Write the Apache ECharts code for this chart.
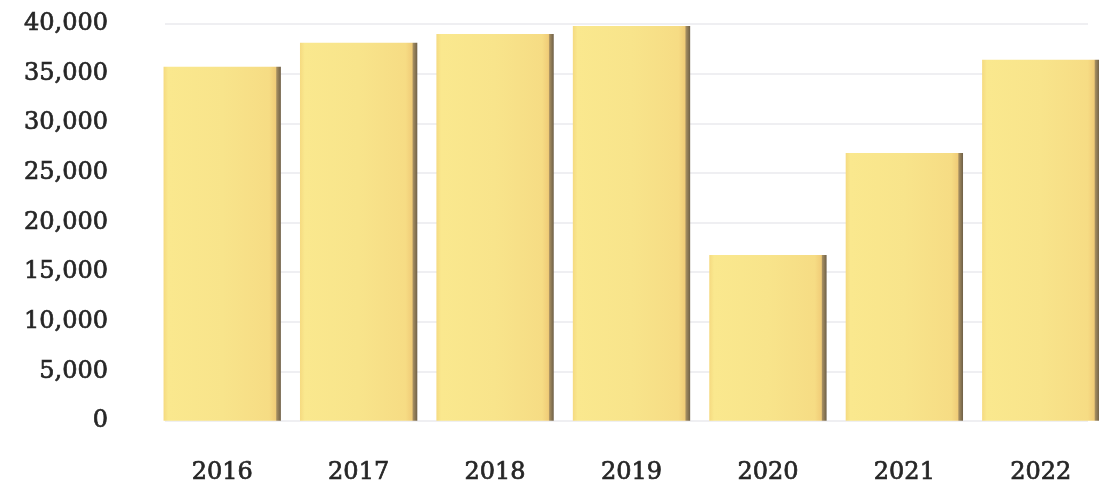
<!DOCTYPE html>
<html>
<head>
<meta charset="utf-8">
<script src="https://cdn.jsdelivr.net/npm/echarts@6/dist/echarts.min.js"></script>
<style>
html,body{margin:0;padding:0;background:#fff;overflow:hidden;}
#c{width:1120px;height:485px;}
</style>
</head>
<body>
<div id="c"></div>
<script>
var categories = ['2016','2017','2018','2019','2020','2021','2022'];
var values = [35700, 38100, 39000, 39800, 16700, 27000, 36400];
var yMin = 0, yMax = 40000, yStep = 5000;

var chart = echarts.init(document.getElementById('c'));
var font = '"DejaVu Serif", "Liberation Serif", serif';
var barColor = new echarts.graphic.LinearGradient(0, 0, 1, 0, [
  {offset: 0, color: '#f5da80'},
  {offset: 0.04, color: '#fae88e'},
  {offset: 0.5, color: '#f8e48b'},
  {offset: 0.9, color: '#f6dc84'},
  {offset: 0.955, color: '#f0cc78'},
  {offset: 0.965, color: '#a48d60'},
  {offset: 1, color: '#6e5f47'}
]);
var labelStyle = {fontFamily: font, fontSize: 24, color: '#262626',
  textBorderColor: '#262626', textBorderWidth: 0.7};
chart.setOption({
  animation: false,
  backgroundColor: '#ffffff',
  grid: [
    {left: 165, right: 32, top: 24, bottom: 64},
    {left: 154, right: 11, top: 24, bottom: 64}
  ],
  xAxis: [
    {gridIndex: 0, type: 'category', data: categories, show: false},
    {gridIndex: 1, type: 'category', data: categories,
     axisLine: {show: false}, axisTick: {show: false},
     axisLabel: Object.assign({margin: 40}, labelStyle)}
  ],
  yAxis: [
    {gridIndex: 0, type: 'value', min: yMin, max: yMax, interval: yStep,
     axisLine: {show: false}, axisTick: {show: false},
     axisLabel: Object.assign({margin: 57,
       formatter: function (v) { return v.toLocaleString('en-US'); }}, labelStyle),
     splitLine: {lineStyle: {color: '#efeff2', width: 2}}},
    {gridIndex: 1, type: 'value', min: yMin, max: yMax, interval: yStep, show: false,
     splitLine: {show: false}}
  ],
  series: [{
    type: 'bar',
    xAxisIndex: 1, yAxisIndex: 1,
    data: values,
    barCategoryGap: '14%',
    itemStyle: {color: barColor}
  }]
});
</script>
</body>
</html>
